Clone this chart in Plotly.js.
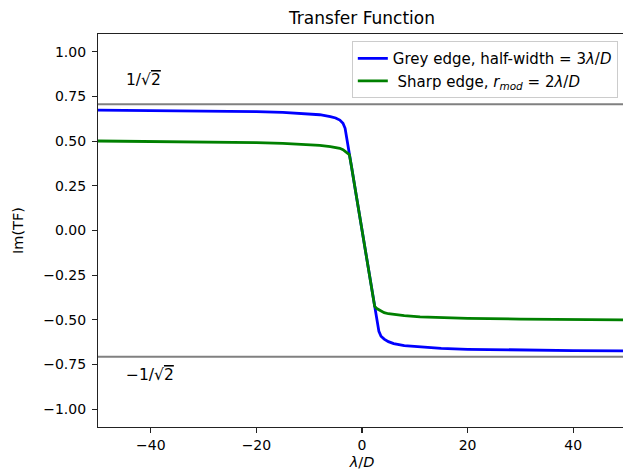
<!DOCTYPE html>
<html>
<head>
<meta charset="utf-8">
<script src="https://cdn.plot.ly/plotly-3.0.1.min.js"></script>
<style>
html,body{margin:0;padding:0;overflow:hidden;background:#fff;width:623px;height:475px;}
#chart{width:626px;height:475px;}
</style>
</head>
<body>
<div id="chart"></div>
<script>
// lambda/D positions
const xVals = [-50,-40,-30,-20,-15,-11,-8,-6,-5,-4.2,-3.6,-3.2,-2.8,-2.4,-2,-1,0,1,2,2.4,2.8,3.2,3.6,4.2,5,6,8,11,15,20,30,40,50];
// Grey edge, half-width = 3 lambda/D
const greyEdge = [0.674,0.672,0.670,0.665,0.661,0.655,0.648,0.638,0.630,0.618,0.600,0.572,0.505,0.432,0.36,0.18,0,-0.18,-0.36,-0.432,-0.505,-0.565,-0.592,-0.608,-0.622,-0.633,-0.645,-0.653,-0.660,-0.665,-0.670,-0.672,-0.674];
// Sharp edge, r_mod = 2 lambda/D
const sharpEdge = [0.501,0.499,0.496,0.492,0.488,0.483,0.477,0.470,0.466,0.460,0.452,0.444,0.437,0.425,0.36,0.18,0,-0.18,-0.36,-0.425,-0.437,-0.444,-0.452,-0.460,-0.466,-0.470,-0.477,-0.483,-0.488,-0.492,-0.496,-0.499,-0.501];
const refLevel = 1/Math.sqrt(2);
const refX = [-50, 50];
const yTicks = [-1,-0.75,-0.5,-0.25,0,0.25,0.5,0.75,1];
const xTicks = [-40,-20,0,20,40];
const seriesNames = ["Grey edge, half-width = 3<i>λ</i>/<i>D</i>", "\u00a0Sharp edge, <i>r</i><sub><i>mod</i></sub> = 2<i>λ</i>/<i>D</i>"];

const FONT = "DejaVu Sans, sans-serif";
const traces = [
  {x: refX, y: [refLevel, refLevel], mode: "lines", line: {color: "gray", width: 2}, showlegend: false, hoverinfo: "skip"},
  {x: refX, y: [-refLevel, -refLevel], mode: "lines", line: {color: "gray", width: 2}, showlegend: false, hoverinfo: "skip"},
  {x: xVals, y: greyEdge, mode: "lines", name: seriesNames[0], line: {color: "blue", width: 2.8}},
  {x: xVals, y: sharpEdge, mode: "lines", name: seriesNames[1], line: {color: "green", width: 2.8}}
];

const layout = {
  width: 626, height: 475,
  margin: {l: 98, r: 0, t: 34, b: 48},
  paper_bgcolor: "#fff", plot_bgcolor: "#fff",
  font: {family: FONT, size: 14, color: "#000"},
  title: {text: "Transfer Function", font: {family: FONT, size: 17, color: "#000"},
          x: 0.5, xref: "paper", y: 1 - 18/475, yref: "container", yanchor: "middle"},
  xaxis: {range: [-50, 50], tickvals: xTicks, ticktext: xTicks.map(v => v < 0 ? "\u2212" + Math.abs(v) : String(v)),
          showline: true, mirror: true, linecolor: "#222", linewidth: 1.1,
          ticks: "outside", ticklen: 5, tickwidth: 1.1, tickcolor: "#222",
          showgrid: false, zeroline: false, tickfont: {family: FONT, size: 14, color: "#000"},
          title: {text: "<i>λ</i>/<i>D</i>", font: {family: FONT, size: 14.5, color: "#000"}, standoff: 4}},
  yaxis: {range: [-1.1, 1.1], tickvals: yTicks, ticktext: yTicks.map(v => (v < 0 ? "\u2212" : "") + Math.abs(v).toFixed(2)),
          showline: true, mirror: false, linecolor: "#222", linewidth: 1.1,
          ticks: "outside", ticklen: 5, tickwidth: 1.1, tickcolor: "#222",
          showgrid: false, zeroline: false, tickfont: {family: FONT, size: 14, color: "#000"},
          ticklabelstandoff: 3, automargin: false,
          title: {text: "Im(TF)", font: {family: FONT, size: 14.5, color: "#000"}, standoff: 16}},
  legend: {x: 0.9845, xanchor: "right", y: 0.982, yanchor: "top",
           bgcolor: "rgba(255,255,255,0.9)", bordercolor: "#cccccc", borderwidth: 1,
           font: {family: FONT, size: 15, color: "#000"}},
  annotations: [
    {text: "1/√<span style='text-decoration:overline'>2</span>", x: -45, y: 0.84, xref: "x", yref: "y",
     xanchor: "left", yanchor: "middle", showarrow: false, font: {family: FONT, size: 15.5, color: "#000"}},
    {text: "−1/√<span style='text-decoration:overline'>2</span>", x: -45, y: -0.81, xref: "x", yref: "y",
     xanchor: "left", yanchor: "middle", showarrow: false, font: {family: FONT, size: 15.5, color: "#000"}}
  ]
};

Plotly.newPlot("chart", traces, layout, {displayModeBar: false, staticPlot: true});
</script>
</body>
</html>
